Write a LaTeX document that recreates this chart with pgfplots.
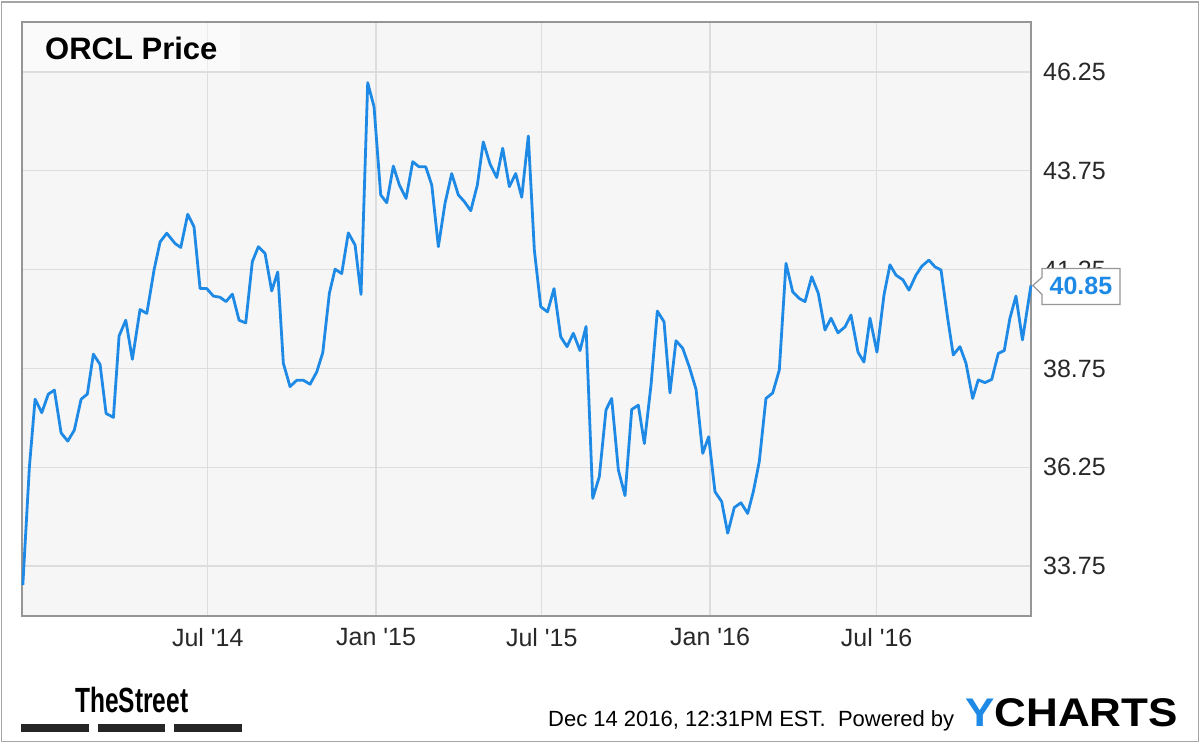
\documentclass[border=0pt]{standalone}
\usepackage{fontspec}
\setmainfont{Liberation Sans}
\usepackage{pgfplots}
\pgfplotsset{compat=1.18}
\definecolor{ylineblue}{RGB}{30,138,230}
\definecolor{plotbg}{RGB}{246,246,246}
\definecolor{gridgray}{RGB}{221,221,221}
\definecolor{framegray}{RGB}{150,150,150}
\definecolor{ticktext}{RGB}{40,40,40}
\definecolor{outergray}{RGB}{165,165,165}
\begin{document}
\begin{tikzpicture}[x=1pt,y=1pt]
\useasboundingbox (0,0) rectangle (1200,747);
\fill[white] (0,0) rectangle (1200,747);
\draw[outergray, line width=1.5pt] (1.7,5.3) rectangle (1198.3,745);
\begin{axis}[
  at={(22pt,131pt)}, anchor=south west,
  scale only axis, width=1009pt, height=594pt,
  xmin=-203, xmax=899.6, ymin=32.485, ymax=47.515,
  axis background/.style={fill=plotbg},
  axis line style={draw=framegray, line width=1.6pt},
  grid=major, grid style={draw=gridgray, line width=1.3pt},
  major tick length=0pt,
  xtick={0,184,365,549,731},
  xticklabels={Jul \textquotesingle 14, Jan \textquotesingle 15, Jul \textquotesingle 15, Jan \textquotesingle 16, Jul \textquotesingle 16},
  ytick={33.75,36.25,38.75,41.25,43.75,46.25},
  yticklabels={33.75,36.25,38.75,41.25,43.75,46.25},
  yticklabel pos=right,
  yticklabel style={font=\fontsize{25}{30}\selectfont, text=ticktext, anchor=west, inner sep=0pt, xshift=12pt},
  xticklabel style={font=\fontsize{25}{30}\selectfont, text=ticktext, anchor=north, inner sep=0pt, yshift=-12pt},
  clip=false,
]
\addplot[ylineblue, line width=2.8pt, line join=round] table {
-202.1 33.27
-194.9 36.26
-188.7 37.97
-181.4 37.63
-174.2 38.10
-167.6 38.20
-160.3 37.12
-153.0 36.91
-145.8 37.19
-138.4 37.97
-131.6 38.10
-125.0 39.11
-117.7 38.85
-111.1 37.61
-103.1 37.51
-96.9 39.57
-89.6 39.97
-82.4 38.98
-74.0 40.24
-66.6 40.14
-58.7 41.24
-52.1 41.95
-44.8 42.17
-35.7 41.91
-29.5 41.81
-21.9 42.65
-15.0 42.33
-8.4 40.77
-1.1 40.77
6.1 40.58
13.4 40.55
20.0 40.44
26.9 40.63
34.2 39.97
41.5 39.90
48.7 41.45
55.3 41.83
62.6 41.66
69.9 40.71
76.5 41.19
82.6 38.88
89.9 38.29
97.3 38.45
104.5 38.45
111.8 38.35
119.1 38.66
125.7 39.15
132.9 40.65
139.1 41.26
146.4 41.15
153.6 42.18
161.0 41.87
167.5 40.62
174.8 45.98
181.7 45.37
189.0 43.14
195.6 42.94
202.8 43.87
209.4 43.39
216.7 43.05
224.0 43.98
230.9 43.85
238.2 43.85
244.8 43.39
252.0 41.83
259.3 42.93
266.6 43.68
273.8 43.14
280.4 42.97
287.4 42.74
294.6 43.39
301.1 44.48
308.5 43.92
315.8 43.58
322.3 44.32
329.6 43.35
336.5 43.68
343.1 43.08
350.3 44.63
356.9 41.74
363.9 40.31
371.3 40.18
378.4 40.77
385.7 39.55
392.6 39.30
399.5 39.64
406.8 39.20
413.4 39.81
420.7 35.46
427.9 36.01
435.2 37.70
441.4 37.99
448.7 36.18
456.0 35.53
463.3 37.71
470.5 37.82
477.1 36.85
484.4 38.33
491.3 40.20
498.6 39.93
505.1 38.13
511.7 39.45
519.0 39.26
526.2 38.79
533.6 38.22
540.9 36.60
547.4 37.02
554.3 35.63
561.6 35.38
568.2 34.58
575.4 35.23
582.7 35.35
590.0 35.08
596.2 35.63
602.7 36.39
610.0 37.99
617.4 38.13
624.6 38.71
631.9 41.41
639.2 40.69
646.4 40.52
652.7 40.44
660.0 41.07
667.2 40.65
674.5 39.72
681.1 40.02
688.7 39.65
696.4 39.80
702.9 40.10
710.6 39.16
717.1 38.91
723.7 40.02
731.3 39.16
739.0 40.61
745.5 41.37
752.1 41.11
759.7 40.99
766.3 40.73
773.9 41.11
780.5 41.34
788.1 41.49
794.7 41.32
801.3 41.24
808.9 39.97
814.7 39.09
822.0 39.30
828.6 38.88
835.9 37.99
842.0 38.46
849.3 38.39
856.7 38.47
863.9 39.13
870.4 39.20
876.6 40.02
883.2 40.58
890.3 39.47
899.6 40.85
};
\coordinate (tip) at (axis cs:899.6,40.85);
\end{axis}
% title box
\fill[white, opacity=0.45] (22.8,676) rectangle (240,724.2);
\node[anchor=base west, inner sep=0pt, font=\bfseries\fontsize{31}{36}\selectfont] at (45,687) {ORCL Price};
% callout
\draw[framegray, fill=white, line width=1.2pt] ([xshift=2pt]tip) -- ++(9,8) -- ++(0,9) -- ++(78,0) -- ++(0,-36) -- ++(-78,0) -- ++(0,10) -- cycle;
\node[anchor=center, inner sep=0pt, text=ylineblue, font=\bfseries\fontsize{25}{30}\selectfont] at ([xshift=50pt]tip) {40.85};
% TheStreet logo
\node[anchor=base west, inner sep=0pt, font=\bfseries\fontsize{35}{40}\selectfont] at (75,34) {\scalebox{0.70}[1]{TheStreet}};
\fill[black!85] (20.7,15.3) rectangle (89.3,22.7);
\fill[black!85] (97.7,15.3) rectangle (165,22.7);
\fill[black!85] (174,15.3) rectangle (242.3,22.7);
% footer
\node[anchor=base west, inner sep=0pt, font=\fontsize{22}{26}\selectfont] at (548,20) {\scalebox{1.0}[1]{Dec 14 2016, 12:31PM EST.\ \ Powered by}};
\node[anchor=base west, inner sep=0pt, font=\bfseries\fontsize{40}{44}\selectfont] at (965,20) {\scalebox{1.1}[1]{\textcolor{ylineblue}{Y}CHARTS}};
\end{tikzpicture}
\end{document}
